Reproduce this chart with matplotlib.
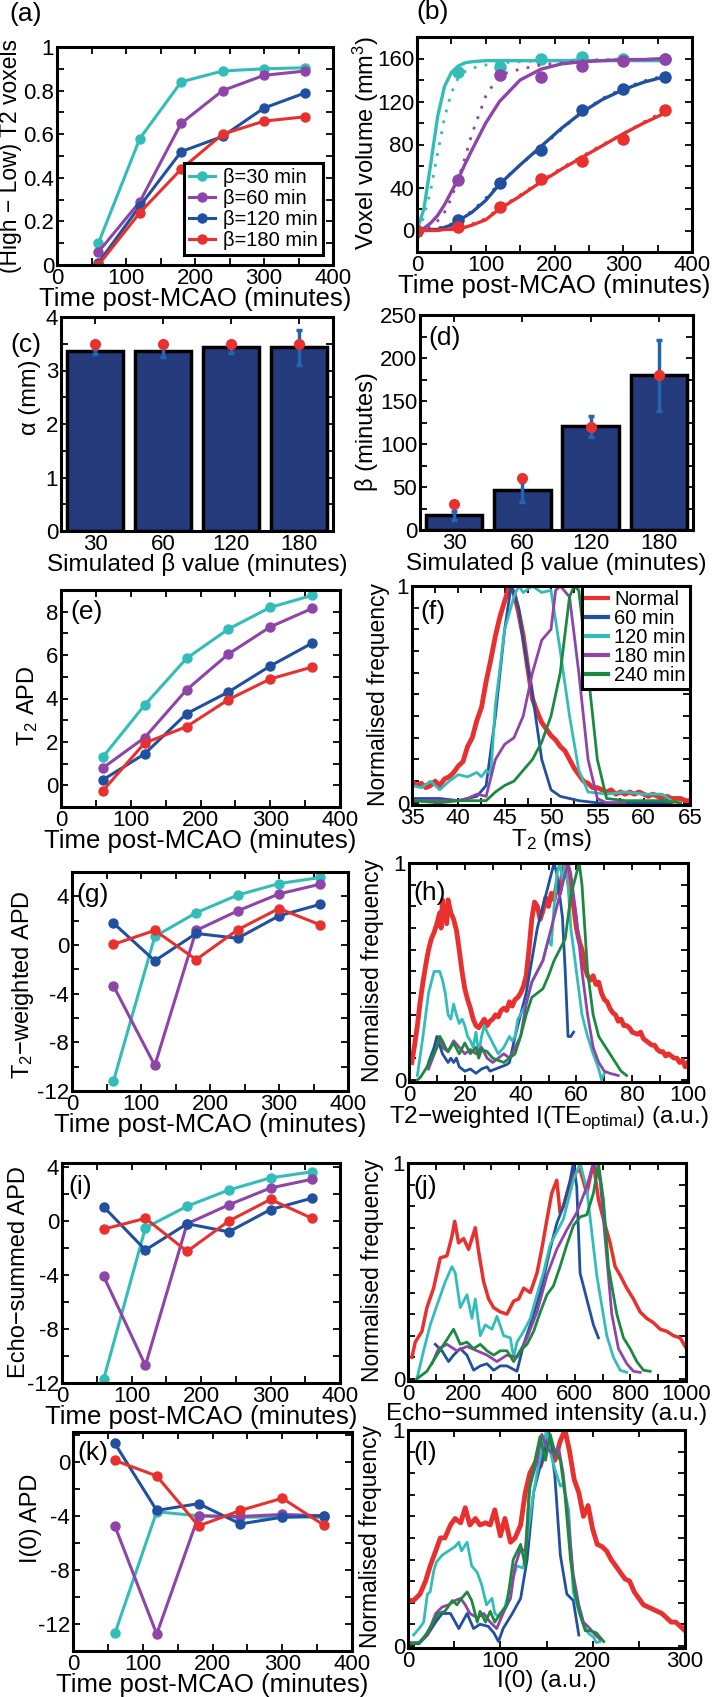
import numpy as np
import matplotlib
matplotlib.use("Agg")
import matplotlib.pyplot as plt
from matplotlib.ticker import AutoMinorLocator, MultipleLocator

plt.rcParams['font.family'] = ['Liberation Sans', 'DejaVu Sans']
plt.rcParams['mathtext.fontset'] = 'custom'
plt.rcParams['mathtext.rm'] = 'Liberation Sans'
plt.rcParams['mathtext.it'] = 'Liberation Sans:italic'
plt.rcParams['mathtext.default'] = 'regular'
plt.rcParams['axes.unicode_minus'] = False

RED = '#e8312f'
BLUE = '#2150a0'
CYAN = '#33bdb9'
PURPLE = '#8e44a8'
GREEN = '#1b8a3e'
NAVY = '#243a7a'
ERR = '#2465b0'

# ---- data ----
times = [60, 120, 180, 240, 300, 360]
beta_labels = ['β=30 min', 'β=60 min', 'β=120 min', 'β=180 min']

# (a) fraction of voxels
a_cyan = [0.10, 0.58, 0.84, 0.89, 0.90, 0.905]
a_purple = [0.06, 0.29, 0.65, 0.80, 0.87, 0.89]
a_blue = [0.01, 0.27, 0.52, 0.59, 0.72, 0.79]
a_red = [0.00, 0.24, 0.44, 0.60, 0.66, 0.68]

# (b) voxel volume
b_times = [0, 60, 120, 180, 240, 300, 360]
b_cyan = [0, 147, 152, 160, 161, 160, 160]
b_purple = [0, 47, 145, 143, 153, 158, 160]
b_blue = [0, 10, 44, 75, 112, 132, 143]
b_red = [0, 3, 22, 48, 65, 85, 112]
fit_t = [0, 10, 20, 30, 40, 50, 60, 70, 80, 100, 120, 150, 180, 210, 240, 270, 300, 330, 360]
fit_cyan = [0, 20, 62, 106, 134, 147, 153, 156, 157, 158, 158, 158, 158, 158, 158, 158, 158, 158, 158]
fit_purple = [0, 2, 7, 14, 24, 36, 48, 62, 75, 100, 120, 140, 150, 155, 157, 158, 159, 159, 160]
fit_blue = [0, 0, 1, 1, 3, 5, 9, 13, 17, 28, 43, 61, 78, 95, 110, 122, 131, 138, 143]
fit_red = [0, 0, 0, 0, 1, 1, 2, 3, 5, 10, 20, 32, 45, 57, 68, 79, 90, 100, 109]
dot_cyan = [0, 12, 38, 72, 105, 128, 142, 148, 151, 154, 156, 157, 158, 158, 159, 159, 159, 159, 160]
dot_purple = [0, 1, 4, 9, 17, 30, 48, 68, 90, 125, 145, 150, 154, 156, 158, 158, 159, 159, 160]
dot_blue = [0, 0, 1, 2, 4, 6, 10, 14, 18, 30, 44, 61, 77, 94, 110, 123, 132, 139, 144]
dot_red = [0, 0, 0, 1, 1, 2, 3, 4, 6, 11, 21, 33, 46, 58, 69, 80, 90, 101, 111]

# (c), (d) bars
sim_beta = ['30', '60', '120', '180']
c_vals = [3.37, 3.37, 3.43, 3.43]
c_lo = [3.30, 3.25, 3.33, 3.10]
c_hi = [3.40, 3.45, 3.47, 3.75]
c_true = [3.5, 3.5, 3.5, 3.5]
d_vals = [17, 47, 121, 180]
d_lo = [12, 33, 108, 138]
d_hi = [22, 56, 133, 221]
d_true = [30, 60, 120, 180]

# (e) T2 APD
e_cyan = [1.3, 3.7, 5.85, 7.2, 8.2, 8.75]
e_purple = [0.8, 2.2, 4.4, 6.05, 7.3, 8.15]
e_blue = [0.25, 1.45, 3.3, 4.3, 5.5, 6.55]
e_red = [-0.25, 1.95, 2.7, 3.95, 4.9, 5.45]

# (g) T2-weighted APD
g_cyan = [-11.2, 0.7, 2.65, 4.1, 5.05, 5.55]
g_purple = [-3.35, -9.9, 1.2, 2.8, 4.2, 5.0]
g_blue = [1.8, -1.3, 0.95, 0.55, 2.4, 3.35]
g_red = [0.05, 1.2, -1.2, 1.25, 3.0, 1.65]

# (i) echo-summed APD
i_cyan = [-11.7, -0.5, 1.1, 2.3, 3.2, 3.65]
i_purple = [-4.1, -10.7, -0.2, 1.2, 2.45, 3.1]
i_blue = [1.05, -2.15, -0.2, -0.8, 0.85, 1.7]
i_red = [-0.6, 0.2, -2.25, 0.0, 1.6, 0.2]

# (k) I(0) APD
k_cyan = [-12.7, -3.7, -4.0, -4.1, -4.1, -4.1]
k_purple = [-4.75, -12.75, -4.0, -4.05, -3.9, -4.0]
k_blue = [1.35, -3.6, -3.1, -4.6, -4.1, -4.0]
k_red = [0.1, -1.05, -4.75, -3.6, -2.7, -4.7]

# (f) T2 histograms
hist_labels = ['Normal', '60 min', '120 min', '180 min', '240 min']
f_red_x = np.arange(35, 65.01, 0.5)
f_red = [0.10, 0.08, 0.09, 0.07, 0.08, 0.10, 0.08, 0.11, 0.12, 0.14,
         0.17, 0.19, 0.26, 0.30, 0.38, 0.44, 0.56, 0.66, 0.77, 0.86,
         0.93, 1.00, 0.97, 0.88, 0.77, 0.62, 0.48, 0.42, 0.37, 0.34,
         0.31, 0.29, 0.26, 0.24, 0.20, 0.16, 0.13, 0.10, 0.09, 0.07,
         0.07, 0.06, 0.05, 0.06, 0.04, 0.05, 0.04, 0.05, 0.04, 0.05,
         0.04, 0.03, 0.04, 0.03, 0.02, 0.03, 0.02, 0.02, 0.02, 0.01,
         0.01]
f_blue = [(35, 0.02), (38, 0.02), (40, 0.01), (42, 0.03), (43, 0.08), (44, 0.40), (45, 0.80),
          (45.7, 1.0), (46.5, 0.90), (47, 0.75), (48, 0.50), (49, 0.20), (50, 0.06), (51, 0.03),
          (53, 0.01), (55, 0.0), (60, 0.0), (63, 0.0)]
f_cyan = [(35, 0.08), (36, 0.07), (37, 0.10), (38, 0.06), (39, 0.10), (40, 0.13), (41, 0.12),
          (42, 0.14), (42.5, 0.12), (43, 0.15), (43.5, 0.13), (44, 0.45), (45, 0.80), (46, 0.95),
          (46.5, 1.0), (47, 0.97), (48, 1.0), (49, 0.97), (50, 0.98), (51, 0.70), (52, 0.40),
          (53, 0.15), (54, 0.05), (56, 0.04), (58, 0.05), (60, 0.04), (62, 0.04), (63, 0.01)]
f_purple = [(35, 0.01), (40, 0.01), (41, 0.02), (42, 0.04), (43, 0.03), (44, 0.20), (45, 0.27),
            (46, 0.30), (47, 0.40), (48, 0.60), (49, 0.75), (50, 0.80), (50.5, 0.98), (51, 1.0),
            (52, 0.95), (53, 0.60), (54, 0.20), (55, 0.02), (56, 0.0), (58, 0.0)]
f_green = [(35, 0.01), (38, 0.0), (40, 0.01), (43, 0.01), (44, 0.05), (45, 0.08), (46, 0.10),
           (47, 0.15), (48, 0.20), (49, 0.28), (50, 0.40), (51, 0.60), (52, 0.95), (52.5, 1.0),
           (53, 0.98), (54, 0.60), (55, 0.20), (56, 0.02), (58, 0.01), (62, 0.01), (64, 0.0)]

# (h) T2-weighted intensity histograms
h_red = [(1, 0.08), (2, 0.16), (3, 0.25), (4, 0.36), (5, 0.45), (6, 0.53), (7, 0.60), (8, 0.65),
         (9, 0.68), (10, 0.72), (11, 0.77), (11.5, 0.70), (12, 0.83), (12.5, 0.74), (13, 0.80),
         (13.5, 0.72), (14, 0.83), (15, 0.77), (16, 0.74), (17, 0.69), (18, 0.60), (19, 0.50),
         (20, 0.42), (21, 0.37), (22, 0.33), (23, 0.28), (24, 0.25), (25, 0.24), (26, 0.26),
         (27, 0.28), (28, 0.25), (29, 0.27), (30, 0.28), (31, 0.30), (32, 0.29), (33, 0.32),
         (34, 0.33), (35, 0.32), (36, 0.36), (37, 0.34), (38, 0.37), (39, 0.38), (40, 0.40),
         (41, 0.43), (42, 0.48), (43, 0.60), (44, 0.74), (45, 0.82), (46, 0.80), (47, 0.74),
         (48, 0.78), (49, 0.84), (50, 0.80), (51, 0.86), (52, 0.83), (53, 0.90), (54, 0.86),
         (55, 0.95), (56, 1.00), (57, 0.93), (58, 0.85), (59, 0.80), (60, 0.70), (61, 0.64),
         (62, 0.60), (63, 0.52), (64, 0.48), (65, 0.46), (66, 0.48), (67, 0.44), (68, 0.45),
         (69, 0.40), (70, 0.37), (71, 0.36), (72, 0.33), (73, 0.31), (74, 0.30), (75, 0.27),
         (76, 0.28), (77, 0.25), (78, 0.25), (79, 0.24), (80, 0.22), (82, 0.21), (83, 0.22),
         (84, 0.19), (85, 0.18), (86, 0.17), (87, 0.16), (88, 0.16), (89, 0.14), (90, 0.13),
         (91, 0.13), (92, 0.11), (93, 0.12), (94, 0.11), (95, 0.10), (96, 0.10), (97, 0.08),
         (98, 0.09), (99, 0.06), (100, 0.08)]
h_blue = [(7, 0.08), (9, 0.15), (10, 0.20), (11, 0.16), (12, 0.12), (13, 0.10), (14, 0.08),
          (15, 0.10), (16, 0.08), (17, 0.10), (18, 0.06), (19, 0.05), (20, 0.04), (22, 0.05),
          (24, 0.03), (26, 0.05), (28, 0.06), (29, 0.04), (31, 0.05), (33, 0.06), (35, 0.07),
          (36, 0.08), (38, 0.20), (40, 0.30), (42, 0.40), (44, 0.55), (46, 0.70), (48, 0.80),
          (50, 0.90), (52, 1.0), (53, 0.95), (55, 0.75), (56, 0.50), (57, 0.20), (58, 0.20),
          (59, 0.22)]
h_cyan = [(3, 0.02), (5, 0.20), (7, 0.40), (9, 0.50), (11, 0.50), (12, 0.46), (13, 0.40),
          (14, 0.30), (15, 0.28), (16, 0.35), (17, 0.30), (18, 0.26), (19, 0.28), (20, 0.25),
          (21, 0.20), (22, 0.18), (23, 0.15), (24, 0.22), (25, 0.12), (26, 0.20), (27, 0.25),
          (28, 0.22), (30, 0.17), (32, 0.12), (34, 0.15), (36, 0.20), (37, 0.18), (38, 0.20),
          (39, 0.28), (40, 0.30), (42, 0.35), (44, 0.45), (46, 0.50), (48, 0.55), (50, 0.65),
          (51, 0.62), (52, 0.80), (53, 0.95), (54, 1.0), (55, 0.92), (56, 1.0), (57, 0.90),
          (58, 0.70), (60, 0.50), (62, 0.30), (64, 0.20), (66, 0.12), (68, 0.05), (69, 0.0),
          (70, 0.03)]
h_purple = [(7, 0.05), (10, 0.15), (11, 0.20), (12, 0.15), (14, 0.13), (16, 0.18), (18, 0.15),
            (20, 0.12), (22, 0.14), (24, 0.12), (26, 0.15), (28, 0.10), (30, 0.08), (32, 0.10),
            (34, 0.12), (36, 0.10), (38, 0.15), (40, 0.20), (42, 0.35), (44, 0.45), (46, 0.50),
            (48, 0.55), (50, 0.65), (52, 0.75), (54, 0.85), (56, 0.95), (57, 1.0), (58, 0.95),
            (60, 0.75), (62, 0.50), (64, 0.30), (66, 0.15), (68, 0.08), (70, 0.04), (72, 0.03),
            (75, 0.02)]
h_green = [(3, 0.0), (4, 0.01), (6, 0.05), (8, 0.10), (10, 0.15), (11, 0.20), (12, 0.18),
           (13, 0.15), (14, 0.13), (16, 0.17), (18, 0.12), (20, 0.17), (22, 0.12), (24, 0.15),
           (25, 0.10), (26, 0.14), (28, 0.13), (30, 0.10), (32, 0.09), (34, 0.08), (36, 0.10),
           (38, 0.12), (40, 0.20), (42, 0.30), (44, 0.38), (46, 0.40), (48, 0.42), (50, 0.48),
           (52, 0.55), (54, 0.60), (56, 0.65), (58, 0.85), (60, 0.95), (61, 1.0), (62, 0.90),
           (63, 0.70), (64, 0.50), (66, 0.30), (68, 0.20), (70, 0.16), (72, 0.12), (74, 0.08),
           (76, 0.04), (78, 0.02)]

# (j) echo-summed intensity histograms
j_red = [(14, 0.10), (26, 0.17), (50, 0.22), (68, 0.33), (92, 0.42), (116, 0.56), (140, 0.57),
         (158, 0.66), (168, 0.73), (182, 0.63), (200, 0.65), (218, 0.60), (242, 0.70), (254, 0.59),
         (272, 0.45), (290, 0.37), (308, 0.33), (332, 0.31), (356, 0.30), (380, 0.36), (398, 0.37),
         (416, 0.42), (440, 0.40), (464, 0.49), (481, 0.60), (500, 0.74), (517, 0.86), (535, 0.92),
         (547, 0.77), (559, 0.80), (577, 0.88), (595, 0.95), (619, 0.97), (643, 0.86), (667, 1.0),
         (685, 0.83), (703, 0.74), (727, 0.63), (745, 0.52), (763, 0.48), (787, 0.42), (811, 0.37),
         (835, 0.31), (859, 0.28), (883, 0.26), (907, 0.23), (931, 0.22), (955, 0.20), (979, 0.19),
         (997, 0.15)]
j_blue = [(98, 0.16), (122, 0.13), (146, 0.08), (164, 0.11), (188, 0.14), (212, 0.11), (236, 0.04),
          (260, 0.06), (284, 0.07), (308, 0.04), (332, 0.06), (356, 0.06), (392, 0.035), (416, 0.16),
          (440, 0.25), (476, 0.40), (511, 0.60), (535, 0.72), (559, 0.80), (583, 0.92), (595, 1.0),
          (607, 0.89), (619, 0.49), (643, 0.37), (667, 0.25), (685, 0.19)]
j_cyan = [(32, 0.0), (56, 0.13), (80, 0.25), (104, 0.34), (134, 0.45), (158, 0.52), (170, 0.49),
          (188, 0.33), (212, 0.39), (230, 0.28), (242, 0.37), (260, 0.20), (278, 0.25), (302, 0.23),
          (320, 0.29), (344, 0.20), (368, 0.19), (380, 0.10), (392, 0.17), (416, 0.22), (440, 0.28),
          (464, 0.39), (487, 0.49), (511, 0.62), (535, 0.68), (559, 0.74), (577, 0.83), (595, 0.92),
          (619, 1.0), (643, 0.88), (661, 0.68), (679, 0.48), (697, 0.34), (715, 0.20), (739, 0.10),
          (763, 0.04), (787, 0.03)]
j_purple = [(86, 0.07), (110, 0.14), (140, 0.16), (176, 0.13), (212, 0.15), (248, 0.13), (284, 0.11),
            (320, 0.08), (356, 0.11), (392, 0.10), (428, 0.19), (464, 0.31), (500, 0.48), (535, 0.60),
            (571, 0.69), (607, 0.77), (643, 0.89), (667, 1.0), (691, 0.92), (709, 0.65), (733, 0.30),
            (757, 0.14), (787, 0.07), (811, 0.035), (835, 0.03)]
j_green = [(32, 0.0), (68, 0.035), (104, 0.11), (134, 0.17), (164, 0.23), (188, 0.16), (212, 0.17),
           (236, 0.14), (260, 0.16), (284, 0.13), (308, 0.11), (332, 0.13), (356, 0.13), (380, 0.08),
           (404, 0.13), (428, 0.16), (452, 0.22), (476, 0.31), (500, 0.39), (523, 0.43), (547, 0.52),
           (571, 0.62), (595, 0.71), (619, 0.75), (643, 0.76), (667, 0.86), (685, 1.0), (703, 0.83),
           (721, 0.52), (751, 0.30), (775, 0.19), (799, 0.14), (823, 0.08), (847, 0.04), (871, 0.035)]

# (l) I(0) histograms
l_red = [(1, 0.21), (6, 0.21), (13, 0.24), (19, 0.30), (24, 0.37), (30, 0.44), (35, 0.50), (40, 0.50),
         (46, 0.56), (51, 0.59), (57, 0.57), (62, 0.64), (67, 0.56), (73, 0.59), (78, 0.56), (84, 0.57),
         (89, 0.56), (94, 0.63), (100, 0.51), (105, 0.59), (111, 0.48), (116, 0.50), (122, 0.56),
         (127, 0.71), (132, 0.80), (138, 0.85), (143, 0.83), (149, 0.91), (154, 0.95), (159, 0.86),
         (165, 0.95), (170, 1.0), (175, 0.90), (180, 0.77), (185, 0.71), (190, 0.60), (195, 0.65),
         (200, 0.54), (205, 0.47), (210, 0.46), (215, 0.44), (220, 0.40), (225, 0.37), (230, 0.34),
         (235, 0.31), (240, 0.30), (245, 0.25), (250, 0.22), (255, 0.19), (260, 0.18), (265, 0.17),
         (270, 0.16), (275, 0.15), (280, 0.13), (285, 0.11), (290, 0.11), (295, 0.09), (300, 0.07)]
l_blue = [(3, 0.01), (12, 0.01), (21, 0.05), (30, 0.11), (37, 0.15), (46, 0.15), (55, 0.08), (64, 0.15),
          (71, 0.08), (78, 0.10), (87, 0.09), (93, 0.06), (98, 0.02), (103, 0.08), (113, 0.15),
          (122, 0.22), (129, 0.40), (136, 0.71), (143, 0.83), (149, 0.92), (152, 1.0), (156, 0.89),
          (159, 0.79), (165, 0.42), (172, 0.24), (179, 0.21), (185, 0.05)]
l_cyan = [(6, 0.05), (12, 0.08), (17, 0.11), (21, 0.24), (24, 0.25), (28, 0.35), (31, 0.39), (37, 0.42),
          (44, 0.44), (51, 0.46), (55, 0.48), (58, 0.44), (64, 0.48), (69, 0.37), (75, 0.34), (80, 0.28),
          (85, 0.19), (91, 0.22), (94, 0.15), (100, 0.13), (105, 0.18), (111, 0.28), (118, 0.37),
          (125, 0.36), (131, 0.56), (136, 0.71), (141, 0.83), (147, 0.94), (150, 1.0), (154, 0.90),
          (159, 0.82), (165, 0.74), (168, 0.75), (174, 0.63), (179, 0.25), (185, 0.16), (190, 0.10),
          (195, 0.06), (201, 0.04), (204, 0.015), (208, 0.02)]
l_purple = [(3, 0.015), (12, 0.015), (21, 0.05), (30, 0.15), (37, 0.18), (44, 0.19), (51, 0.21),
            (57, 0.22), (62, 0.19), (67, 0.15), (75, 0.13), (82, 0.15), (89, 0.11), (96, 0.08),
            (104, 0.16), (111, 0.22), (116, 0.37), (122, 0.45), (127, 0.44), (132, 0.74), (140, 0.86),
            (145, 0.98), (150, 0.92), (157, 0.89), (163, 0.92), (168, 0.80), (174, 0.56), (179, 0.33),
            (185, 0.19), (190, 0.11), (197, 0.08), (203, 0.05), (208, 0.03)]
l_green = [(3, 0.01), (12, 0.015), (19, 0.05), (26, 0.10), (33, 0.15), (40, 0.16), (48, 0.21),
           (53, 0.19), (58, 0.22), (64, 0.25), (69, 0.21), (75, 0.11), (78, 0.16), (84, 0.11),
           (89, 0.16), (94, 0.11), (100, 0.15), (107, 0.19), (114, 0.40), (122, 0.47), (127, 0.37),
           (131, 0.71), (136, 0.83), (143, 0.97), (149, 0.86), (154, 0.98), (159, 0.90), (165, 0.86),
           (170, 0.70), (176, 0.40), (181, 0.24), (186, 0.15), (192, 0.07), (197, 0.07), (204, 0.06),
           (212, 0.02)]

# ---- figure ----
W, H = 719, 1697
fig = plt.figure(figsize=(W / 100, H / 100), dpi=100)
TFS = 16      # tick labels
LFS = 17      # axis labels
XFS_TIME = 18.5


def add_ax(box):
    l, r, t, b = box
    ax = fig.add_axes([l / W, 1 - b / H, (r - l) / W, (b - t) / H])
    for s in ax.spines.values():
        s.set_linewidth(2.2)
    ax.tick_params(direction='in', top=True, right=True, labelsize=TFS, width=1.3, length=5, pad=2)
    ax.tick_params(which='minor', direction='in', top=True, right=True, width=1.3, length=5)
    return ax


def place_ylabel(ax, box, text, px, py, fs=LFS):
    l, r, t, b = box
    ax.set_ylabel(text, fontsize=fs)
    ax.yaxis.set_label_coords((px - l) / (r - l), (b - py) / (b - t))
    ax.yaxis.label.set_va('center')


def label(x, y, s):
    fig.text(x / W, 1 - y / H, s, fontsize=19, ha='center', va='center')


def line_panel(ax, series, ylim, yticks):
    for vals, col in series:
        ax.plot(times, vals, '-o', color=col, lw=2.2, ms=6.5)
    ax.set_xlim(0, 400)
    ax.set_ylim(*ylim)
    ax.set_xticks([0, 100, 200, 300, 400])
    ax.xaxis.set_minor_locator(MultipleLocator(50))
    ax.set_yticks(yticks)
    ax.yaxis.set_minor_locator(AutoMinorLocator(2))
    ax.set_xlabel('Time post-MCAO (minutes)', fontsize=XFS_TIME, labelpad=-1)


def hist_panel(ax, curves, xlim, xticks, xlabel):
    for xs, ys, col, lw in curves:
        ax.plot(xs, ys, color=col, lw=lw)
    ax.set_xlim(*xlim)
    ax.set_ylim(-0.01, 1.0)
    ax.set_xticks(xticks)
    ax.xaxis.set_minor_locator(AutoMinorLocator(2))
    ax.set_yticks([0, 1])
    ax.set_yticklabels(['0', '1'])
    ax.yaxis.set_minor_locator(MultipleLocator(0.1))
    ax.set_xlabel(xlabel, fontsize=17.5, labelpad=-1)


def unzip(pairs):
    return [p[0] for p in pairs], [p[1] for p in pairs]


# (a)
box = (57, 333, 47, 265)
ax = add_ax(box)
for vals, col, lab in zip([a_cyan, a_purple, a_blue, a_red], [CYAN, PURPLE, BLUE, RED], beta_labels):
    ax.plot(times, vals, '-o', color=col, lw=2.2, ms=6.5, label=lab)
ax.set_xlim(0, 400)
ax.set_ylim(0, 1)
ax.set_xticks([0, 100, 200, 300, 400])
ax.xaxis.set_minor_locator(MultipleLocator(50))
ax.set_yticks([0, 0.2, 0.4, 0.6, 0.8, 1])
ax.set_yticklabels(['0', '0.2', '0.4', '0.6', '0.8', '1'])
ax.yaxis.set_minor_locator(AutoMinorLocator(2))
ax.set_xlabel('Time post-MCAO (minutes)', fontsize=XFS_TIME, labelpad=-1)
place_ylabel(ax, box, '(High − Low) T2 voxels', 11, 156, fs=16.5)
leg = ax.legend(loc='lower right', fontsize=14.5, handlelength=1.3, borderpad=0.25,
                labelspacing=0.1, handletextpad=0.4, fancybox=False, framealpha=1,
                edgecolor='black', borderaxespad=0.5)
leg.get_frame().set_linewidth(2.2)
label(26, 14, '(a)')

# (b)
box = (417, 692, 37, 252)
ax = add_ax(box)
for fit, dot, pts, col in zip([fit_cyan, fit_purple, fit_blue, fit_red],
                              [dot_cyan, dot_purple, dot_blue, dot_red],
                              [b_cyan, b_purple, b_blue, b_red],
                              [CYAN, PURPLE, BLUE, RED]):
    ax.plot(fit_t, dot, color=col, lw=2, ls=(0, (1, 3)))
    ax.plot(fit_t, fit, color=col, lw=2.4)
    ax.plot(b_times, pts, 'o', color=col, ms=8)
ax.set_xlim(0, 400)
ax.set_ylim(-20, 180)
ax.set_xticks([0, 100, 200, 300, 400])
ax.xaxis.set_minor_locator(MultipleLocator(50))
ax.set_yticks([0, 40, 80, 120, 160])
ax.yaxis.set_minor_locator(AutoMinorLocator(2))
ax.set_xlabel('Time post-MCAO (minutes)', fontsize=XFS_TIME, labelpad=-1)
place_ylabel(ax, box, 'Voxel volume (mm$^3$)', 366, 143)
label(433, 12, '(b)')

# (c)
pos = np.arange(1, 5)
box = (61, 333, 317, 531)
ax = add_ax(box)
ax.bar(pos, c_vals, width=0.83, color=NAVY, edgecolor='black', linewidth=2.5, zorder=2)
ax.errorbar(pos, c_vals, yerr=[np.subtract(c_vals, c_lo), np.subtract(c_hi, c_vals)],
            fmt='none', ecolor=ERR, elinewidth=2.5, capsize=2, capthick=2.5, zorder=3)
ax.plot(pos, c_true, 'o', color=RED, ms=7, zorder=4)
ax.set_xlim(0.5, 4.5)
ax.set_ylim(0, 4)
ax.set_xticks(pos)
ax.set_xticklabels(sim_beta)
ax.set_yticks([0, 1, 2, 3, 4])
ax.yaxis.set_minor_locator(AutoMinorLocator(2))
ax.set_xlabel('Simulated β value (minutes)', fontsize=17.5, labelpad=-1)
place_ylabel(ax, box, 'α (mm)', 30, 397)
label(26, 345, '(c)')

# (d)
box = (420, 693, 315, 530)
ax = add_ax(box)
ax.bar(pos, d_vals, width=0.83, color=NAVY, edgecolor='black', linewidth=2.5, zorder=2)
ax.errorbar(pos, d_vals, yerr=[np.subtract(d_vals, d_lo), np.subtract(d_hi, d_vals)],
            fmt='none', ecolor=ERR, elinewidth=2.5, capsize=2, capthick=2.5, zorder=3)
ax.plot(pos, d_true, 'o', color=RED, ms=7, zorder=4)
ax.set_xlim(0.5, 4.5)
ax.set_ylim(0, 250)
ax.set_xticks(pos)
ax.set_xticklabels(sim_beta)
ax.set_yticks([0, 50, 100, 150, 200, 250])
ax.yaxis.set_minor_locator(AutoMinorLocator(2))
ax.set_xlabel('Simulated β value (minutes)', fontsize=17.5, labelpad=-1)
place_ylabel(ax, box, 'β (minutes)', 367, 432)
label(445, 338, '(d)')

# (e)
box = (61, 340, 590, 807)
ax = add_ax(box)
line_panel(ax, [(e_cyan, CYAN), (e_purple, PURPLE), (e_blue, BLUE), (e_red, RED)],
           (-1, 9), [0, 2, 4, 6, 8])
place_ylabel(ax, box, 'T$_2$ APD', 28, 706)
label(87, 612, '(e)')

# (f)
box = (412, 690, 586, 805)
ax = add_ax(box)
fbx, fby = unzip(f_blue)
fcx, fcy = unzip(f_cyan)
fpx, fpy = unzip(f_purple)
fgx, fgy = unzip(f_green)
hist_panel(ax, [(f_red_x, f_red, RED, 3.5), (fbx, fby, BLUE, 2), (fcx, fcy, CYAN, 2),
                (fpx, fpy, PURPLE, 2), (fgx, fgy, GREEN, 2)],
           (35, 65), [35, 40, 45, 50, 55, 60, 65], 'T$_2$ (ms)')
place_ylabel(ax, box, 'Normalised frequency', 379, 694, fs=16.5)
leg = ax.legend(ax.lines, hist_labels, loc='upper right', fontsize=14.5, handlelength=1.1,
                borderpad=0.2, labelspacing=0.0, handletextpad=0.3, fancybox=False,
                framealpha=1, edgecolor='black', borderaxespad=0)
leg.get_frame().set_linewidth(2.2)
for ln in leg.get_lines():
    ln.set_linewidth(3)
label(433, 612, '(f)')

# (g)
box = (72, 348, 872, 1091)
ax = add_ax(box)
line_panel(ax, [(g_cyan, CYAN), (g_purple, PURPLE), (g_blue, BLUE), (g_red, RED)],
           (-12, 6), [-12, -8, -4, 0, 4])
place_ylabel(ax, box, 'T$_2$−weighted APD', 23, 985)
label(93, 895, '(g)')

# (h)
box = (409, 688, 863, 1082)
ax = add_ax(box)
curves = []
for pairs, col, lw in [(h_red, RED, 3.5), (h_blue, BLUE, 2), (h_cyan, CYAN, 2),
                       (h_purple, PURPLE, 2), (h_green, GREEN, 2)]:
    xs, ys = unzip(pairs)
    curves.append((xs, ys, col, lw))
hist_panel(ax, curves, (0, 100), [0, 20, 40, 60, 80, 100], 'T2−weighted I(TE$_{optimal}$) (a.u.)')
place_ylabel(ax, box, 'Normalised frequency', 373, 970, fs=16.5)
label(430, 893, '(h)')

# (i)
box = (62, 340, 1163, 1383)
ax = add_ax(box)
line_panel(ax, [(i_cyan, CYAN), (i_purple, PURPLE), (i_blue, BLUE), (i_red, RED)],
           (-12, 4.3), [-12, -8, -4, 0, 4])
place_ylabel(ax, box, 'Echo−summed APD', 19, 1272)
label(80, 1187, '(i)')

# (j)
box = (408, 686, 1163, 1381)
ax = add_ax(box)
curves = []
for pairs, col, lw in [(j_red, RED, 2.5), (j_blue, BLUE, 2), (j_cyan, CYAN, 2),
                       (j_purple, PURPLE, 2), (j_green, GREEN, 2)]:
    xs, ys = unzip(pairs)
    curves.append((xs, ys, col, lw))
hist_panel(ax, curves, (0, 1000), [0, 200, 400, 600, 800, 1000], 'Echo−summed intensity (a.u.)')
place_ylabel(ax, box, 'Normalised frequency', 373, 1270, fs=16.5)
label(425, 1187, '(j)')

# (k)
box = (73, 352, 1432, 1651)
ax = add_ax(box)
line_panel(ax, [(k_cyan, CYAN), (k_purple, PURPLE), (k_blue, BLUE), (k_red, RED)],
           (-14, 2.2), [-12, -8, -4, 0])
place_ylabel(ax, box, 'I(0) APD', 31, 1518)
label(93, 1453, '(k)')

# (l)
box = (408, 685, 1430, 1648)
ax = add_ax(box)
curves = []
for pairs, col, lw in [(l_red, RED, 3.5), (l_blue, BLUE, 2), (l_cyan, CYAN, 2),
                       (l_purple, PURPLE, 2), (l_green, GREEN, 2)]:
    xs, ys = unzip(pairs)
    curves.append((xs, ys, col, lw))
hist_panel(ax, curves, (0, 300), [0, 100, 200, 300], 'I(0) (a.u.)')
place_ylabel(ax, box, 'Normalised frequency', 371, 1536, fs=16.5)
label(425, 1453, '(l)')

fig.savefig('out.png', dpi=100)
